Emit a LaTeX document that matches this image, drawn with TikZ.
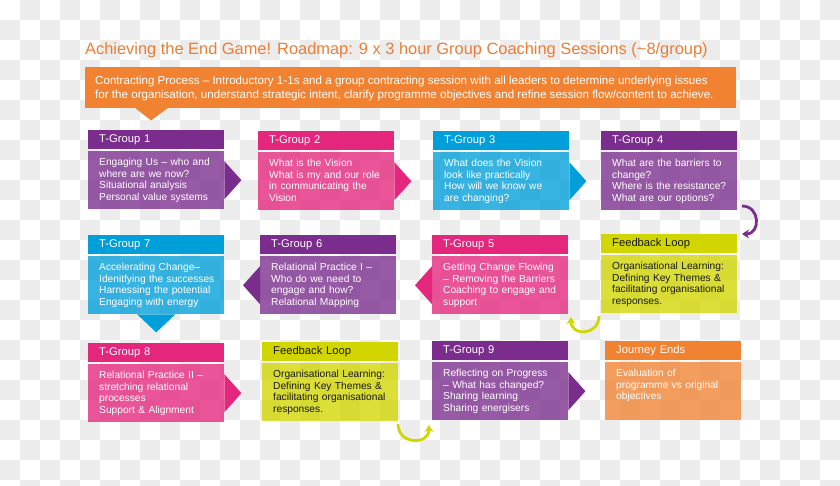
\documentclass[tikz,border=0pt]{standalone}
\usepackage{fontspec}
\setmainfont{Liberation Sans}
\usetikzlibrary{calc,arrows.meta}
\definecolor{purpleC}{RGB}{123,45,142}
\definecolor{magentaC}{RGB}{229,38,125}
\definecolor{cyanC}{RGB}{0,159,218}
\definecolor{limeC}{RGB}{209,214,0}
\definecolor{orangeC}{RGB}{240,130,50}
\definecolor{titleC}{RGB}{236,125,52}
\definecolor{checkC}{RGB}{236,236,236}
\definecolor{darkC}{RGB}{25,25,25}
\tikzset{
  hdr/.style={fill=#1, minimum width=136pt, minimum height=19pt, inner xsep=11pt, inner ysep=0pt,
    text width=114pt, align=left, text height=8pt, text depth=2.5pt,
    font=\fontsize{11.2}{13}\selectfont, anchor=north west},
  bdy/.style={fill=#1, fill opacity=0.78, minimum width=136pt, minimum height=58pt, inner sep=0pt, anchor=north west},
  btxt/.style={inner sep=0pt, anchor=north west, text width=128pt, align=left,
    font=\fontsize{10.2}{11.7}\selectfont},
  curv/.style={line width=2.8pt, draw=#1, -{Stealth[length=7pt,width=9pt]}},
}
\newcommand\mkbox[7]{%
  \node[hdr=#4, text=#7] (#1h) at (#2,#3) {#5};
  \node[bdy=#4] (#1) at (#2,#3+21) {};
  \node[btxt, text=#7] (#1t) at ($(#1.north west)+(11,7)$) {#6};
}
\newcommand\chevR[2]{\fill[#2] ($(#1.east)+(0,-19)$) -- ($(#1.east)+(17,0)$) -- ($(#1.east)+(0,19)$) -- cycle;}
\newcommand\chevL[2]{\fill[#2] ($(#1.west)+(0,-19)$) -- ($(#1.west)+(-17,0)$) -- ($(#1.west)+(0,19)$) -- cycle;}
\newcommand\chevD[2]{\fill[#2] ($(#1.south)+(-19,0)$) -- ($(#1.south)+(0,18)$) -- ($(#1.south)+(19,0)$) -- cycle;}
\begin{document}
\begin{tikzpicture}[x=1pt,y=-1pt]
\useasboundingbox (0,0) rectangle (840,485);
\fill[white] (0,0) rectangle (840,485);
\foreach \i in {0,2,...,40}{\foreach \j in {1,3,...,23}{\fill[checkC] (\i*20,\j*20) rectangle ++(20,20);}}
\foreach \i in {1,3,...,41}{\foreach \j in {0,2,...,24}{\fill[checkC] (\i*20,\j*20) rectangle ++(20,20);}}

% title
\node[anchor=base west, inner sep=0pt, text=titleC, font=\fontsize{16.4}{19}\selectfont] (title) at (85,54)
  {Achieving the End Game! Roadmap: 9 x 3 hour Group Coaching Sessions (\textasciitilde 8/group)};

% contracting banner
\node[fill=orangeC, anchor=north west, minimum width=651pt, minimum height=41pt, inner sep=0pt] (contract) at (85,67) {};
\node[anchor=west, inner sep=0pt, align=left, text=white, font=\fontsize{11.6}{14}\selectfont] (contracttxt)
  at ($(contract.west)+(10,0.5)$)
  {Contracting Process \textendash{} Introductory 1-1s and a group contracting session with all leaders to determine underlying issues\\
   for the organisation, understand strategic intent, clarify programme objectives and refine session flow/content to achieve.};
\fill[orangeC] ($(contract.south west)+(50,-0.5)$) -- ($(contract.south west)+(83,-0.5)$) -- ($(contract.south west)+(66,12)$) -- cycle;

% row 1
\mkbox{t1}{88}{130}{purpleC}{T-Group 1}{Engaging Us \textendash{} who and\\where are we now?\\Situational analysis\\Personal value systems}{white}
\mkbox{t2}{258}{131}{magentaC}{T-Group 2}{What is the Vision\\What is my and our role\\in communicating the\\Vision}{white}
\mkbox{t3}{433}{131}{cyanC}{T-Group 3}{What does the Vision\\look like practically\\How will we know we\\are changing?}{white}
\mkbox{t4}{601}{131}{purpleC}{T-Group 4}{What are the barriers to\\change?\\Where is the resistance?\\What are our options?}{white}

% row 2
\mkbox{t7}{88}{235}{cyanC}{T-Group 7}{Accelerating Change\textendash\\Idenitfying the successes\\Harnessing the potential\\Engaging with energy}{white}
\mkbox{t6}{260}{235}{purpleC}{T-Group 6}{Relational Practice I \textendash\\Who do we need to\\engage and how?\\Relational Mapping}{white}
\mkbox{t5}{432}{235}{magentaC}{T-Group 5}{Getting Change Flowing\\\textendash{} Removing the Barriers\\Coaching to engage and\\support}{white}
\mkbox{f1}{601}{234}{limeC}{Feedback Loop}{Organisational Learning:\\Defining Key Themes \&\\facilitating organisational\\responses.}{darkC}

% row 3
\mkbox{t8}{88}{343}{magentaC}{T-Group 8}{Relational Practice II \textendash\\stretching relational\\processes\\Support \& Alignment}{white}
\mkbox{f2}{262}{342}{limeC}{Feedback Loop}{Organisational Learning:\\Defining Key Themes \&\\facilitating organisational\\responses.}{darkC}
\mkbox{t9}{432}{341}{purpleC}{T-Group 9}{Reflecting on Progress\\\textendash{} What has changed?\\Sharing learning\\Sharing energisers}{white}
\mkbox{je}{605}{341}{orangeC}{Journey Ends}{Evaluation of\\programme vs original\\objectives}{white}

% chevrons
\chevR{t1}{purpleC}
\chevR{t2}{magentaC}
\chevR{t3}{cyanC}
\chevL{t5}{magentaC}
\chevL{t6}{purpleC}
\chevD{t7}{cyanC}
\chevR{t8}{magentaC}
\chevR{t9}{purpleC}

% curved arrows
\coordinate (a1s) at (742,206);
\coordinate (a1e) at (742,234);
\draw[curv=purpleC] (a1s) to[out=0,in=0,looseness=1.7] (a1e);
\coordinate (a2s) at (599,316);
\coordinate (a2e) at (571,317);
\draw[curv=limeC] (a2s) to[out=-90,in=-90,looseness=1.8] (a2e);
\coordinate (a3s) at (398,424);
\coordinate (a3e) at (429,425);
\draw[curv=limeC] (a3s) to[out=-90,in=-90,looseness=1.7] (a3e);
\end{tikzpicture}
\end{document}
